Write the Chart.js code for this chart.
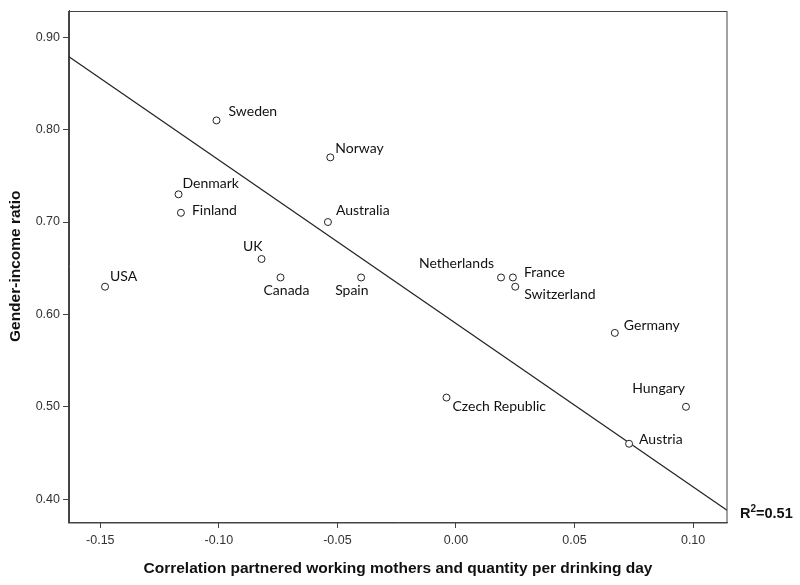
<!DOCTYPE html>
<html>
<head>
<meta charset="utf-8">
<script src="https://cdn.jsdelivr.net/npm/chart.js@4.4.1/dist/chart.umd.min.js"></script>
<style>
  html, body { margin: 0; padding: 0; background: #fff; }
</style>
</head>
<body>
<canvas id="chart" width="800" height="585"></canvas>
<script>
// data
const countries = ['USA', 'Sweden', 'Norway', 'Denmark', 'Finland', 'Australia', 'UK', 'Canada', 'Spain',
  'Netherlands', 'France', 'Switzerland', 'Germany', 'Czech Republic', 'Hungary', 'Austria']
const corrValues = [-0.148, -0.101, -0.053, -0.117, -0.116, -0.054, -0.082, -0.074, -0.040,
  0.019, 0.024, 0.025, 0.067, -0.004, 0.097, 0.073]
const incomeRatio = [0.63, 0.81, 0.77, 0.73, 0.71, 0.70, 0.66, 0.64, 0.64,
  0.64, 0.64, 0.63, 0.58, 0.51, 0.50, 0.46]
const fitX = [-0.1632, 0.1143]
const fitY = [0.879, 0.388]
const xTicks = [-0.15, -0.10, -0.05, 0.00, 0.05, 0.10]
const yTicks = [0.40, 0.50, 0.60, 0.70, 0.80, 0.90]
const rSquared = '0.51'

// label placement relative to each point (px): dx, dy, align
const labelPos = {
  'USA': [5, -10, 'left'],
  'Sweden': [12, -9, 'left'],
  'Norway': [5, -9, 'left'],
  'Denmark': [4, -11, 'left'],
  'Finland': [11, -2, 'left'],
  'Australia': [8, -12, 'left'],
  'UK': [1, -13, 'right'],
  'Canada': [-17, 13, 'left'],
  'Spain': [-26, 13, 'left'],
  'Netherlands': [-7, -14, 'right'],
  'France': [11, -5, 'left'],
  'Switzerland': [9, 8, 'left'],
  'Germany': [9, -7, 'left'],
  'Czech Republic': [6, 9, 'left'],
  'Hungary': [-1, -18, 'right'],
  'Austria': [10, -4, 'left']
}

const frameAndLabels = {
  id: 'frameAndLabels',
  afterDatasetsDraw(chart) {
    const ctx = chart.ctx
    const a = chart.chartArea
    ctx.save()
    ctx.strokeStyle = '#444'
    ctx.lineWidth = 1
    ctx.strokeRect(Math.round(a.left) - 0.5, Math.round(a.top) + 0.5,
      Math.round(a.right - a.left) + 0.5, Math.round(a.bottom - a.top) - 0.5)

    ctx.fillStyle = '#111'
    ctx.font = '14px Lato'
    ctx.textBaseline = 'middle'
    const meta = chart.getDatasetMeta(0)
    meta.data.forEach((pt, i) => {
      const p = labelPos[countries[i]]
      ctx.textAlign = p[2]
      ctx.fillText(countries[i], pt.x + p[0], pt.y + p[1])
    })

    // R² annotation next to the right end of the fit line
    ctx.textAlign = 'left'
    ctx.font = 'bold 14.5px "Liberation Sans"'
    let x = a.right + 13
    const y = 514
    ctx.fillText('R', x, y)
    x += ctx.measureText('R').width
    ctx.font = 'bold 10px "Liberation Sans"'
    ctx.fillText('2', x, y - 5)
    x += ctx.measureText('2').width
    ctx.font = 'bold 14.5px "Liberation Sans"'
    ctx.fillText('=' + rSquared, x, y)
    ctx.restore()
  }
}

const tickFont = { family: 'Liberation Sans', size: 12.5 }
const titleFont = { family: 'Liberation Sans', size: 15.5, weight: 'bold' }

new Chart(document.getElementById('chart'), {
  type: 'scatter',
  data: {
    datasets: [{
      data: countries.map((c, i) => ({ x: corrValues[i], y: incomeRatio[i] })),
      pointRadius: 3.5,
      pointBackgroundColor: '#fff',
      pointBorderColor: '#222',
      pointBorderWidth: 1
    }, {
      data: fitX.map((v, i) => ({ x: v, y: fitY[i] })),
      showLine: true,
      borderColor: '#222',
      borderWidth: 1.2,
      pointRadius: 0
    }]
  },
  options: {
    responsive: false,
    animation: false,
    layout: { padding: { top: 6, right: 73, left: 0, bottom: 0 } },
    plugins: { legend: { display: false }, tooltip: { enabled: false } },
    scales: {
      x: {
        type: 'linear',
        min: fitX[0],
        max: fitX[1],
        afterBuildTicks: s => { s.ticks = xTicks.map(v => ({ value: v })) },
        afterFit: s => { s.height = 63 },
        ticks: { font: tickFont, color: '#333', padding: 5, maxRotation: 0, autoSkip: false,
          callback: v => v.toFixed(2) },
        grid: { drawOnChartArea: false, tickLength: 6, color: '#444' },
        border: { color: '#444' },
        title: { display: true, text: 'Correlation partnered working mothers and quantity per drinking day',
          font: titleFont, color: '#111', padding: { top: 4, bottom: 7 } }
      },
      y: {
        min: 0.3753,
        max: 0.929,
        afterBuildTicks: s => { s.ticks = yTicks.map(v => ({ value: v })) },
        afterFit: s => { s.width = 69 },
        ticks: { font: tickFont, color: '#333', padding: 3, autoSkip: false,
          callback: v => v.toFixed(2) },
        grid: { drawOnChartArea: false, tickLength: 6, color: '#444' },
        border: { color: '#444' },
        title: { display: true, text: 'Gender-income ratio',
          font: titleFont, color: '#111', padding: { top: 6, bottom: 4 } }
      }
    }
  },
  plugins: [frameAndLabels]
})
</script>
</body>
</html>
